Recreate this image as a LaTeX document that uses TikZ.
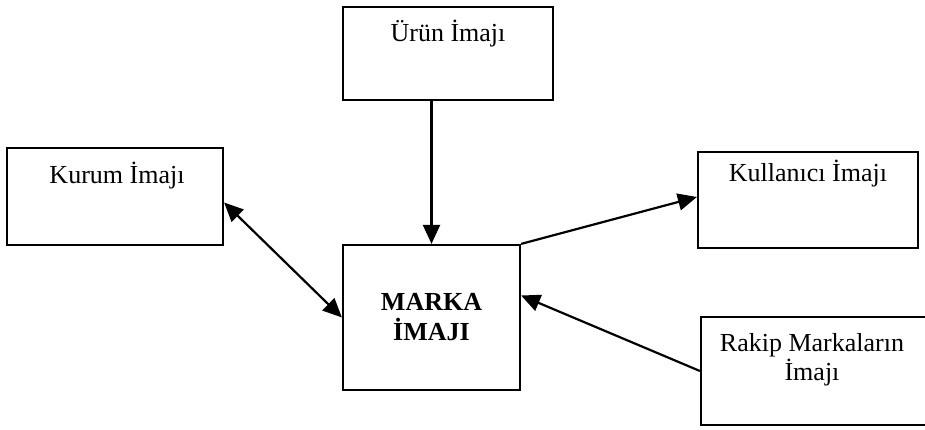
\documentclass[tikz,border=0pt]{standalone}
\usepackage{fontspec}
\setmainfont{Liberation Serif}
\usetikzlibrary{arrows.meta,positioning}

\tikzset{
  kutu/.style={draw, rectangle, line width=2.2pt, inner sep=0pt},
  etiket/.style={inner sep=0pt, font=\fontsize{26}{29}\selectfont},
  ok/.style={line width=2.2pt, ->},
  >={Triangle[length=19pt,width=17pt]},
}

\begin{document}
\begin{tikzpicture}[x=1pt,y=1pt]
  \useasboundingbox (0,0) rectangle (925,430);
  % kutular
  \node[kutu, minimum width=210, minimum height=93] (urun) at (448,376.5) {};
  \node[kutu, minimum width=216, minimum height=97] (kurum) at (115,233.5) {};
  \node[kutu, minimum width=220, minimum height=96] (kullanici) at (808,230) {};
  \node[kutu, minimum width=177, minimum height=145, align=center,
        font=\fontsize{26}{30}\selectfont\bfseries] (marka) at (431.5,112.5) {MARKA\\İMAJI};
  \node[kutu, minimum width=230, minimum height=108] (rakip) at (816,59) {};
  % yazilar
  \node[etiket, anchor=base] (urun-e) at ([yshift=-36pt]urun.north) {Ürün İmajı};
  \node[etiket, anchor=base] (kurum-e) at ([xshift=2pt,yshift=-37pt]kurum.north) {Kurum İmajı};
  \node[etiket, anchor=base] (kullanici-e) at ([yshift=-31pt]kullanici.north) {Kullanıcı İmajı};
  \node[etiket, anchor=north, align=center] (rakip-e) at (812,97) {Rakip Markaların\\İmajı};
  % oklar
  \draw[ok] (urun.south -| marka.north) -- (marka.north);
  \draw[ok, <->] ([yshift=-6pt]kurum.east) -- (marka.west);
  \draw[ok] (marka.north east) -- ([yshift=3pt]kullanici.west);
  \draw[ok] (rakip.west) -- ([yshift=22pt]marka.east);
\end{tikzpicture}
\end{document}
